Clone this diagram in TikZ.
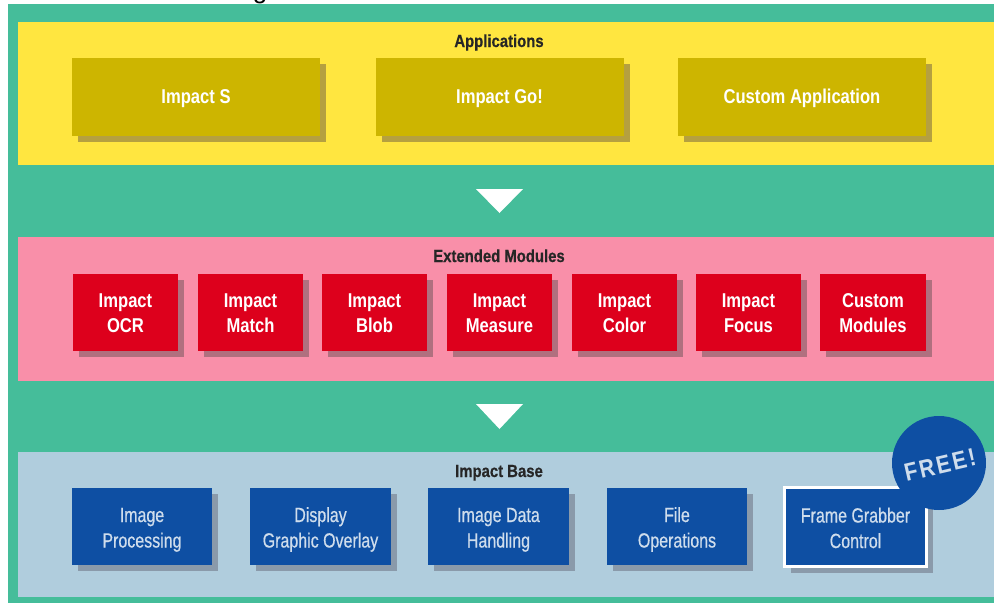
\documentclass[tikz,border=0pt]{standalone}
\usepackage{fontspec}
\usetikzlibrary{shadows}
\setmainfont{Liberation Sans}
\newfontfamily\cond[FakeStretch=0.83]{Liberation Sans}
\newfontfamily\condb[FakeStretch=0.85,FakeBold=0.6]{Liberation Sans}
\newfontfamily\condl[FakeStretch=0.78,FakeBold=0.5]{Liberation Sans}
\newfontfamily\free[FakeStretch=0.85,LetterSpace=9]{Liberation Sans}
\definecolor{bggreen}{HTML}{45BD9A}
\definecolor{panelyellow}{HTML}{FFE640}
\definecolor{boxolive}{HTML}{CDB500}
\definecolor{shadeolive}{HTML}{B5A040}
\definecolor{panelpink}{HTML}{F98FA9}
\definecolor{boxred}{HTML}{DD001C}
\definecolor{shadered}{HTML}{B0707F}
\definecolor{panelblue}{HTML}{B0CDDD}
\definecolor{boxblue}{HTML}{0E4FA3}
\definecolor{shadeblue}{HTML}{8A9AAA}
\definecolor{txtblue}{HTML}{CFDDEC}
\tikzset{
  x=1pt,y=-1pt,
  band/.style={anchor=base,font=\condb\bfseries\fontsize{17.5}{19}\selectfont,text=black!85,inner sep=0pt},
  modbox/.style n args={5}{rectangle,fill=#1,draw=none,inner sep=0pt,minimum width=#3,minimum height=#4,
    align=center,general shadow={shadow xshift=6pt,shadow yshift=-6pt,fill=#2},
    text height=#5pt,text depth=0pt},
  oliveb/.style={modbox={boxolive}{shadeolive}{#1}{78}{12},text=white,font=\cond\bfseries\fontsize{20}{25}\selectfont},
  redb/.style={modbox={boxred}{shadered}{#1}{77}{39},text=white,font=\cond\bfseries\fontsize{20}{25}\selectfont},
  blueb/.style={modbox={boxblue}{shadeblue}{#1}{77}{42},text=txtblue,font=\condl\fontsize{20.5}{25.5}\selectfont},
  downtri/.style={fill=white,draw=none},
}
\begin{document}
\begin{tikzpicture}
\useasboundingbox (0,0) rectangle (994,603);
\fill[white] (0,0) rectangle (994,603);
\begin{scope}
  \clip (0,0) rectangle (994,4);
  \node[anchor=base,inner sep=0pt,font=\fontsize{26}{28}\selectfont] (cut) at (260,-2) {g};
\end{scope}
\fill[bggreen] (8,4) rectangle (994,603);
% panels
\fill[panelyellow] (18,22) rectangle (994,165);
\fill[panelpink] (18,237) rectangle (994,381);
\fill[panelblue] (18,452) rectangle (994,597);
% arrows
\fill[downtri] (476,189) -- (523,189) -- (499.5,213) -- cycle;
\fill[downtri] (476,404) -- (523,404) -- (499.5,429) -- cycle;
% headings
\node[band] (hApp) at (499,47) {Applications};
\node[band] (hExt) at (499,262) {Extended Modules};
\node[band] (hBase) at (499,477) {Impact Base};
% applications
\node[oliveb=248] (a1) at (196,97) {Impact S};
\node[oliveb=248] (a2) at (499.5,97) {Impact Go!};
\node[oliveb=248] (a3) at (802,97) {Custom Application};
% modules
\node[redb=105] (m1) at (125.5,312.5) {Impact\\OCR};
\node[redb=105] (m2) at (250.5,312.5) {Impact\\Match};
\node[redb=105] (m3) at (374.5,312.5) {Impact\\Blob};
\node[redb=105] (m4) at (499.5,312.5) {Impact\\Measure};
\node[redb=105] (m5) at (624.5,312.5) {Impact\\Color};
\node[redb=105] (m6) at (748.5,312.5) {Impact\\Focus};
\node[redb=106] (m7) at (873,312.5) {Custom\\Modules};
% base
\node[blueb=140] (b1) at (142,526.5) {Image\\Processing};
\node[blueb=141] (b2) at (320.5,526.5) {Display\\Graphic Overlay};
\node[blueb=141] (b3) at (498.5,526.5) {Image Data\\Handling};
\node[blueb=140] (b4) at (677,526.5) {File\\Operations};
\node[blueb=142,minimum height=79pt,draw=white,line width=3pt] (b5) at (855.5,527) {Frame Grabber\\Control};
% badge
\node[circle,fill=boxblue,minimum size=94pt,inner sep=0pt] (badge) at (939,463) {};
\node[rotate=13,text=txtblue,font=\free\bfseries\fontsize{25}{27}\selectfont,inner sep=0pt] (freeT) at (940,465) {FREE!};
\end{tikzpicture}
\end{document}
